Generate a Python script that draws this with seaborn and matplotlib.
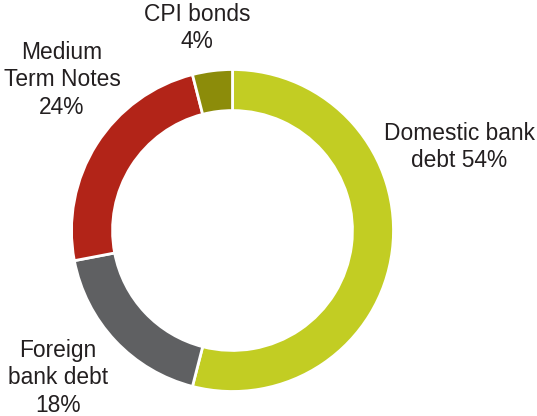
import matplotlib
matplotlib.use("Agg")
import matplotlib.pyplot as plt
import seaborn as sns

# Funding mix shares (%)
categories = ["Domestic bank\ndebt", "Foreign\nbank debt", "Medium\nTerm Notes", "CPI bonds"]
shares = [54, 18, 24, 4]
colors = ["#C2CD23", "#5F6062", "#B22418", "#8C8C0A"]

# Label text blocks and their anchor points (figure pixels from top-left)
label_texts = ["Domestic bank\ndebt 54%", "Foreign\nbank debt\n18%", "Medium\nTerm Notes\n24%", "CPI bonds\n4%"]
label_px = [(459, 147), (58, 378), (62, 80), (197, 28)]

sns.set_theme(style="white")
plt.rcParams["font.family"] = ["Liberation Sans", "DejaVu Sans"]

W, H = 537, 416
fig = plt.figure(figsize=(W / 100, H / 100), dpi=100)
cx, cy, r = 232.5, 230.5, 161.0
ax = fig.add_axes([(cx - r) / W, (H - cy - r) / H, 2 * r / W, 2 * r / H])

ax.pie(shares, colors=colors, startangle=90, counterclock=False, radius=1.0,
       wedgeprops=dict(width=0.255, edgecolor="white", linewidth=2))
ax.set_xlim(-1, 1)
ax.set_ylim(-1, 1)
ax.set_aspect("equal")
ax.axis("off")

for text, (px, py) in zip(label_texts, label_px):
    ax.text((px - cx) / r, (cy - py) / r, text, ha="center", va="center",
            multialignment="center", fontsize=16.4, color="#231F20",
            linespacing=1.27, clip_on=False)

fig.savefig("out.png", dpi=100)
